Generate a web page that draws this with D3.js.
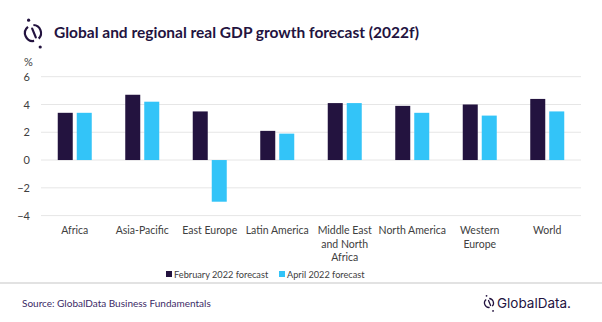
<!DOCTYPE html>
<html><head><meta charset="utf-8">
<script src="https://cdn.jsdelivr.net/npm/d3@7"></script>
<style>
html,body{margin:0;padding:0;background:#fff;}
svg{display:block;font-family:Lato, "Open Sans", sans-serif;}
</style></head><body>
<svg id="chart" width="602" height="322"></svg>
<script>
const categories = ["Africa", "Asia-Pacific", "East Europe", "Latin America", "Middle East and North Africa", "North America", "Western Europe", "World"];
const categoryLines = [["Africa"], ["Asia-Pacific"], ["East Europe"], ["Latin America"], ["Middle East", "and North", "Africa"], ["North America"], ["Western", "Europe"], ["World"]];
const febForecast = [3.4, 4.7, 3.5, 2.1, 4.1, 3.9, 4.0, 4.4];
const aprForecast = [3.4, 4.2, -3.0, 1.9, 4.1, 3.4, 3.2, 3.5];
const seriesNames = ["February 2022 forecast", "April 2022 forecast"];
const seriesColors = ["#23133f", "#33c4f8"];
const yTicks = [-4, -2, 0, 2, 4, 6];

const svg = d3.select("#chart");
const plotLeft = 41, plotRight = 581;
const x = d3.scaleBand().domain(categories).range([plotLeft, plotRight]).paddingInner(0).paddingOuter(0);
const y = d3.scaleLinear().domain([-4, 6]).range([215.6, 76.7]);

function drawIcon(g, r, sw, dotR) {
  g.attr("stroke", "#23133f").attr("fill", "none").attr("stroke-width", sw).attr("stroke-linecap", "round");
  g.append("path").attr("d", d3.arc()({innerRadius: r, outerRadius: r, startAngle: 0.05, endAngle: 2.35}));
  g.append("path").attr("d", d3.arc()({innerRadius: r, outerRadius: r, startAngle: 3.0, endAngle: 5.6}));
  g.append("line").attr("x1", -r * 0.1).attr("y1", -r * 0.55).attr("x2", r * 0.35).attr("y2", r * 0.55);
  g.append("circle").attr("cx", -r * 0.55).attr("cy", -r * 1.6).attr("r", dotR).attr("fill", "#23133f").attr("stroke", "none");
  g.append("circle").attr("cx", r * 0.9).attr("cy", r * 1.75).attr("r", dotR).attr("fill", "#23133f").attr("stroke", "none");
}

// title + icon
drawIcon(svg.append("g").attr("transform", "translate(33,33)"), 8, 2.2, 1.6);
svg.append("text").attr("x", 54).attr("y", 38).attr("font-size", 15.5).attr("font-weight", 700)
  .attr("fill", "#23133f").text("Global and regional real GDP growth forecast (2022f)");

// grid
svg.append("g").selectAll("line").data(yTicks).join("line")
  .attr("x1", plotLeft).attr("x2", plotRight)
  .attr("y1", d => y(d)).attr("y2", d => y(d))
  .attr("stroke", "#e6e6e6").attr("stroke-width", 1);

// y axis
const yAxis = d3.axisLeft(y).tickValues(yTicks).tickSize(0).tickPadding(0);
const gy = svg.append("g").attr("transform", "translate(30,0)").call(yAxis);
gy.select(".domain").remove();
gy.selectAll("text").attr("font-size", 11).attr("fill", "#404040").attr("font-family", "Lato, sans-serif");
svg.append("text").attr("x", 24).attr("y", 66).attr("font-size", 11).attr("fill", "#404040").text("%");

// bars
const barW = 15, gap = 4;
const series = [febForecast, aprForecast];
series.forEach((vals, si) => {
  svg.append("g").selectAll("rect").data(vals).join("rect")
    .attr("x", (d, i) => x(categories[i]) + x.bandwidth() / 2 - barW - gap / 2 + si * (barW + gap))
    .attr("width", barW)
    .attr("y", d => y(Math.max(0, d)))
    .attr("height", d => Math.abs(y(d) - y(0)))
    .attr("fill", seriesColors[si]);
});

// category labels
const gx = svg.append("g");
categories.forEach((c, i) => {
  const t = gx.append("text").attr("text-anchor", "middle").attr("font-size", 10.5).attr("fill", "#404040")
    .attr("x", x(c) + x.bandwidth() / 2).attr("y", 234);
  categoryLines[i].forEach((ln, li) => {
    t.append("tspan").attr("x", x(c) + x.bandwidth() / 2).attr("dy", li === 0 ? 0 : 13.5).text(ln);
  });
});

// legend
const legend = svg.append("g");
const legX = [166, 279];
seriesNames.forEach((n, i) => {
  legend.append("rect").attr("x", legX[i]).attr("y", 271).attr("width", 6).attr("height", 6).attr("fill", seriesColors[i]);
  legend.append("text").attr("x", legX[i] + 8).attr("y", 278).attr("font-size", 9.2).attr("fill", "#404040").text(n);
});

// separator
svg.append("line").attr("x1", 0).attr("x2", 602).attr("y1", 283).attr("y2", 283).attr("stroke", "#d9d9d9").attr("stroke-width", 1.5);

// footer
svg.append("text").attr("x", 22).attr("y", 307).attr("font-size", 10).attr("fill", "#3b2a66").text("Source: GlobalData Business Fundamentals");
drawIcon(svg.append("g").attr("transform", "translate(489,303)"), 4.5, 1.3, 0.9);
svg.append("text").attr("x", 497).attr("y", 308).attr("font-size", 13.5).attr("font-family", "Inter, sans-serif")
  .attr("fill", "#23133f").text("GlobalData.");
</script>
</body></html>
